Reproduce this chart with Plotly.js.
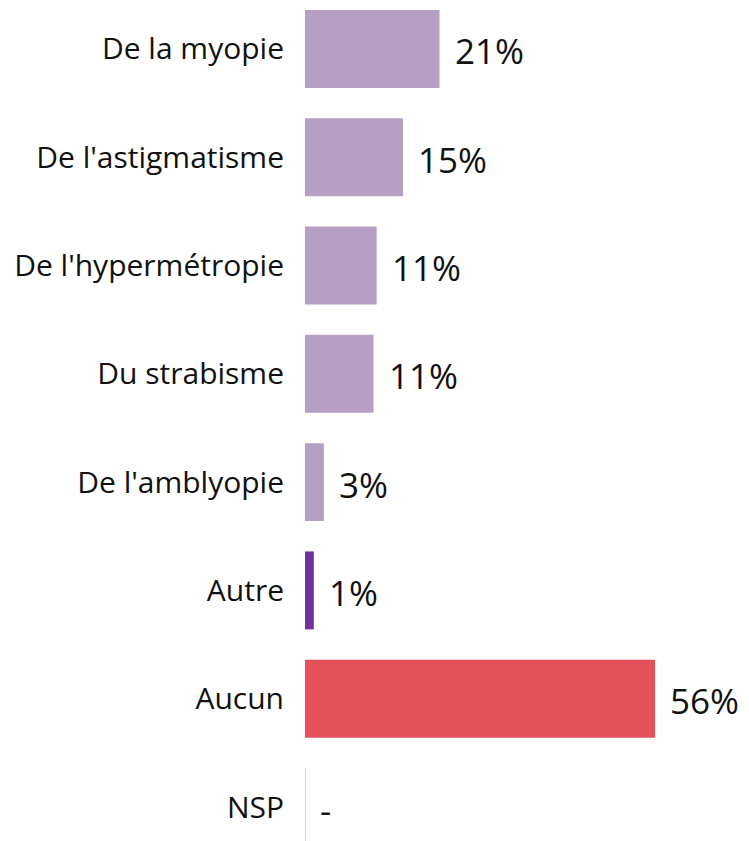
<!DOCTYPE html>
<html>
<head>
<meta charset="utf-8">
<script src="https://cdn.plot.ly/plotly-3.0.1.min.js"></script>
<style>html,body{margin:0;padding:0;background:#fff;}#chart{width:749px;height:841px;}</style>
</head>
<body>
<div id="chart"></div>
<script>
const categories = ["De la myopie", "De l'astigmatisme", "De l'hypermétropie", "Du strabisme", "De l'amblyopie", "Autre", "Aucun", "NSP"];
const values = [21.4, 15.6, 11.4, 10.9, 3.0, 1.4, 55.7, 0];
const valueLabels = ["21%", "15%", "11%", "11%", "3%", "1%", "56%", "-"];
const barColors = ["#b59fc4", "#b59fc4", "#b59fc4", "#b59fc4", "#b59fc4", "#7030a0", "#e5505a", "#c8c8c8"];

const FONT = "'Open Sans', 'Noto Sans', sans-serif";

const trace = {
  type: "bar",
  orientation: "h",
  y: categories,
  x: values,
  marker: { color: barColors },
  width: 0.72,
  hoverinfo: "none"
};

const annotations = categories.map((c, i) => ({
  x: values[i], y: c, xref: "x", yref: "y",
  text: valueLabels[i], showarrow: false,
  xanchor: "left", yanchor: "middle", xshift: 13, yshift: -2,
  font: { family: FONT, size: 35, color: "#111" }
}));

const nspIndex = categories.indexOf("NSP");
const shapes = [{
  type: "line", xref: "x", yref: "y",
  x0: values[nspIndex], x1: values[nspIndex],
  y0: nspIndex - 0.36, y1: nspIndex + 0.36,
  line: { color: "#c8c8c8", width: 1.5 }
}];

const layout = {
  width: 749, height: 841,
  margin: { l: 305, r: 4, t: 0, b: 0 },
  paper_bgcolor: "#fff", plot_bgcolor: "#fff",
  showlegend: false,
  xaxis: { range: [0, 70], visible: false, fixedrange: true },
  yaxis: {
    type: "category",
    range: [7.314, -0.452],
    autorange: false,
    showgrid: false, zeroline: false, showline: false,
    ticks: "outside", ticklen: 14, tickcolor: "rgba(0,0,0,0)",
    tickfont: { family: FONT, size: 30, color: "#111" }
  },
  annotations: annotations,
  shapes: shapes
};

Plotly.newPlot("chart", [trace], layout, { staticPlot: true, displayModeBar: false });
</script>
</body>
</html>
